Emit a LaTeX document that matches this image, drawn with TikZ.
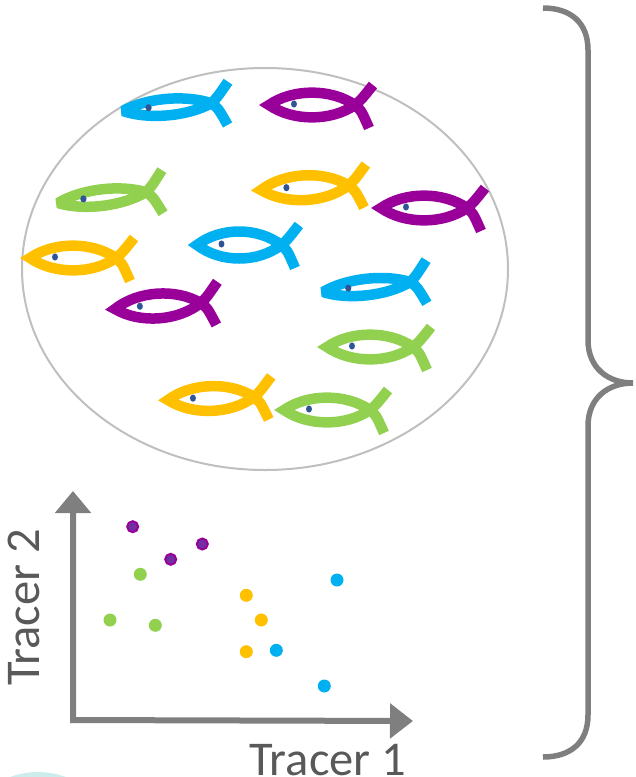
\documentclass[tikz,border=0pt]{standalone}
\usepackage{fontspec}
\setmainfont{Carlito}
\usetikzlibrary{arrows.meta}

\definecolor{fishcyan}{HTML}{00B0F0}
\definecolor{fishpurple}{HTML}{990099}
\definecolor{fishyellow}{HTML}{FFC000}
\definecolor{fishgreen}{HTML}{92D050}
\definecolor{eyeblue}{HTML}{2F5597}
\definecolor{ringgray}{HTML}{BFBFBF}
\definecolor{axisgray}{HTML}{7F7F7F}
\definecolor{labelgray}{HTML}{595959}
\definecolor{dotinner}{HTML}{7030A0}
\definecolor{paleteal}{HTML}{CDEDED}

\tikzset{
  % a fish: nose at the origin, two crossing arcs forming body and tail
  pics/fish/.style n args={2}{code={
    \draw[#1, line width=10.5pt, line cap=butt, line join=miter, miter limit=2.2]
      (104,-20) .. controls (92,-5) .. (86,0)
      .. controls (62,#2) and (24,#2) .. (0,0)
      .. controls (24,-#2) and (62,-#2) .. (86,0)
      .. controls (92,5) .. (100,23);
    \fill[eyeblue] (25,-1) ellipse [x radius=3, y radius=3.6];
  }},
  dot/.style={circle, inner sep=0pt, minimum size=13pt, fill=#1},
  purpledot/.style={circle, inner sep=0pt, minimum size=11pt, fill=dotinner,
    draw=fishpurple, line width=2pt},
  axis/.style={axisgray, line width=6pt, line join=miter},
  axislabel/.style={inner sep=0pt, text=labelgray, font=\fontsize{48.5}{56}\selectfont},
  bracestyle/.style={axisgray, line width=5.5pt},
}

\begin{document}
\begin{tikzpicture}[x=1pt, y=-1pt]
  \useasboundingbox (0,0) rectangle (635,777);
  \clip (0,0) rectangle (635,777);

  % pale disc peeking in at the lower left
  \fill[paleteal] (38,852) circle [radius=80];

  % the sampled population
  \draw[ringgray, line width=2pt] (265,269) ellipse [x radius=243, y radius=201];

  \pic[rotate=5, xscale=1.03] at (123,111) {fish={fishcyan}{11}};
  \pic at (269,105) {fish={fishpurple}{16.5}};
  \pic[rotate=7, xscale=1.03] at (58,203) {fish={fishgreen}{11}};
  \pic[rotate=3, xscale=1.02] at (261,190) {fish={fishyellow}{16.5}};
  \pic at (381,208) {fish={fishpurple}{16.5}};
  \pic[xscale=0.98] at (197,245) {fish={fishcyan}{18}};
  \pic[xscale=1.0] at (30,258) {fish={fishyellow}{16.5}};
  \pic[rotate=4] at (115,309) {fish={fishpurple}{16.5}};
  \pic[rotate=6.5, xscale=1.02] at (323,292) {fish={fishcyan}{11}};
  \pic at (327,347) {fish={fishgreen}{16.5}};
  \pic[rotate=2] at (168,400) {fish={fishyellow}{16.5}};
  \pic at (284,410) {fish={fishgreen}{16.5}};

  % tracer plot
  \coordinate (origin) at (73,720);
  \coordinate (ytip) at (73,491);
  \coordinate (xtip) at (413,721);
  \draw[axis, {Triangle[length=22pt, width=35pt]}-{Triangle[length=23pt, width=34pt]}]
    (ytip) -- (origin) -- (xtip);

  \node[axislabel, anchor=base west] (xlabel) at (249,775) {Tracer 1};
  \node[axislabel, anchor=base west, rotate=90] (ylabel) at (39,686) {Tracer 2};

  \node[purpledot] (p1) at (132.7,526.7) {};
  \node[purpledot] (p2) at (202.3,544) {};
  \node[purpledot] (p3) at (170.7,559.3) {};
  \node[dot=fishgreen] (g1) at (140.3,574.3) {};
  \node[dot=fishgreen] (g2) at (110,620) {};
  \node[dot=fishgreen] (g3) at (155.3,625.3) {};
  \node[dot=fishyellow] (y1) at (246.3,595.3) {};
  \node[dot=fishyellow] (y2) at (261.3,620) {};
  \node[dot=fishyellow] (y3) at (246.3,651.7) {};
  \node[dot=fishcyan] (c1) at (337,580) {};
  \node[dot=fishcyan] (c2) at (276.3,650.3) {};
  \node[dot=fishcyan] (c3) at (324.3,686) {};

  % right-hand brace spanning both panels
  \coordinate (btop) at (543,8);
  \coordinate (btip) at (633,383);
  \coordinate (bbot) at (543,757);
  \draw[bracestyle]
    (btop) .. controls (570,8) and (588,22) .. (588,50)
    -- (588,340) .. controls (588,368) and (608,383) .. (btip)
    .. controls (608,383) and (588,398) .. (588,426)
    -- (588,715) .. controls (588,743) and (570,757) .. (bbot);
\end{tikzpicture}
\end{document}
